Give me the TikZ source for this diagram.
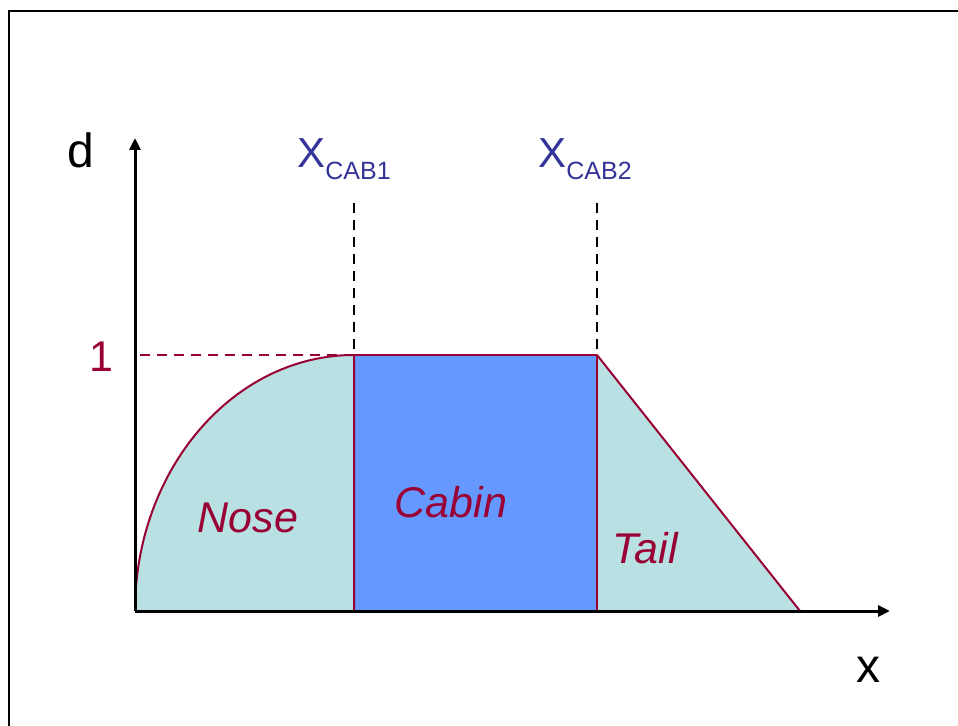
\documentclass[tikz,border=0pt]{standalone}
\usepackage{fontspec}
\setmainfont{Liberation Sans}
\usepackage{xcolor}
\usepackage{tikz}
\usetikzlibrary{
arrows.meta,
positioning,
calc
}
\definecolor{fuseteal}{HTML}{B9E0E3}
\definecolor{fuseblue}{HTML}{6699FF}
\definecolor{fusered}{HTML}{990033}
\definecolor{fuseink}{HTML}{333399}

\begin{document}
\begin{tikzpicture}[
  x=0.5pt, y=-0.5pt,
  >={Triangle[length=6pt, width=5.5pt]},
  axis/.style={->, line width=1.5pt, black},
  guide/.style={line width=1pt, dash pattern=on 5pt off 3.5pt},
  outline/.style={line width=1pt, fusered, line join=round},
  region/.style={font=\fontsize{21.5}{26}\selectfont\itshape, text=fusered, inner sep=0pt},
  axlabel/.style={font=\fontsize{24}{28}\selectfont, inner sep=0pt},
  cablabel/.style={font=\fontsize{21}{25}\selectfont, text=fuseink, inner sep=0pt, anchor=base west}
]
\useasboundingbox (0,0) rectangle (958,726);

% Frame
\draw[line width=1.3pt] (9,726) -- (9,11) -- (958,11);

% Key points
\coordinate (O) at (135,611);
\coordinate (c1top) at (354,355);
\coordinate (c2top) at (597,355);
\coordinate (c1bot) at (354,611);
\coordinate (c2bot) at (597,611);
\coordinate (tailend) at (800,611);

% Nose, cabin, tail
\fill[fuseteal] (O) .. controls (135,470) and (233,355) .. (c1top) -- (c1bot) -- cycle;
\fill[fuseblue] (c1top) rectangle (c2bot);
\fill[fuseteal] (c2top) -- (tailend) -- (c2bot) -- cycle;

% Reference line d = 1
\draw[guide, fusered] (140,355) -- (408,355);

% Outlines
\draw[outline] (O) .. controls (135,470) and (233,355) .. (c1top) -- (c1bot);
\draw[outline] (c1top) -- (c2top) -- (c2bot);
\draw[outline] (c2top) -- (tailend);

% Cabin limits
\draw[guide] (354,203) -- (c1top);
\draw[guide] (597,203) -- (c2top);
\node[cablabel] (xcab1) at (297,168) {X\raisebox{-6pt}{\fontsize{12.5}{15}\selectfont CAB1}};
\node[cablabel] (xcab2) at (538,168) {X\raisebox{-6pt}{\fontsize{12.5}{15}\selectfont CAB2}};

% Axes
\draw[axis] (O) -- (135,138);
\draw[axis] (O) -- (890,611);
\node[axlabel] (dlab) at (81,150) {d};
\node[axlabel] (xlab) at (868,670) {x};
\node[axlabel, font=\fontsize{21.5}{26}\selectfont, text=fusered] (one) at (101,357) {1};

% Region labels
\node[region] (nose) at (248,518) {Nose};
\node[region] (cabin) at (451,502) {Cabin};
\node[region] (tail) at (645,548) {Tail};

\end{tikzpicture}
\end{document}
